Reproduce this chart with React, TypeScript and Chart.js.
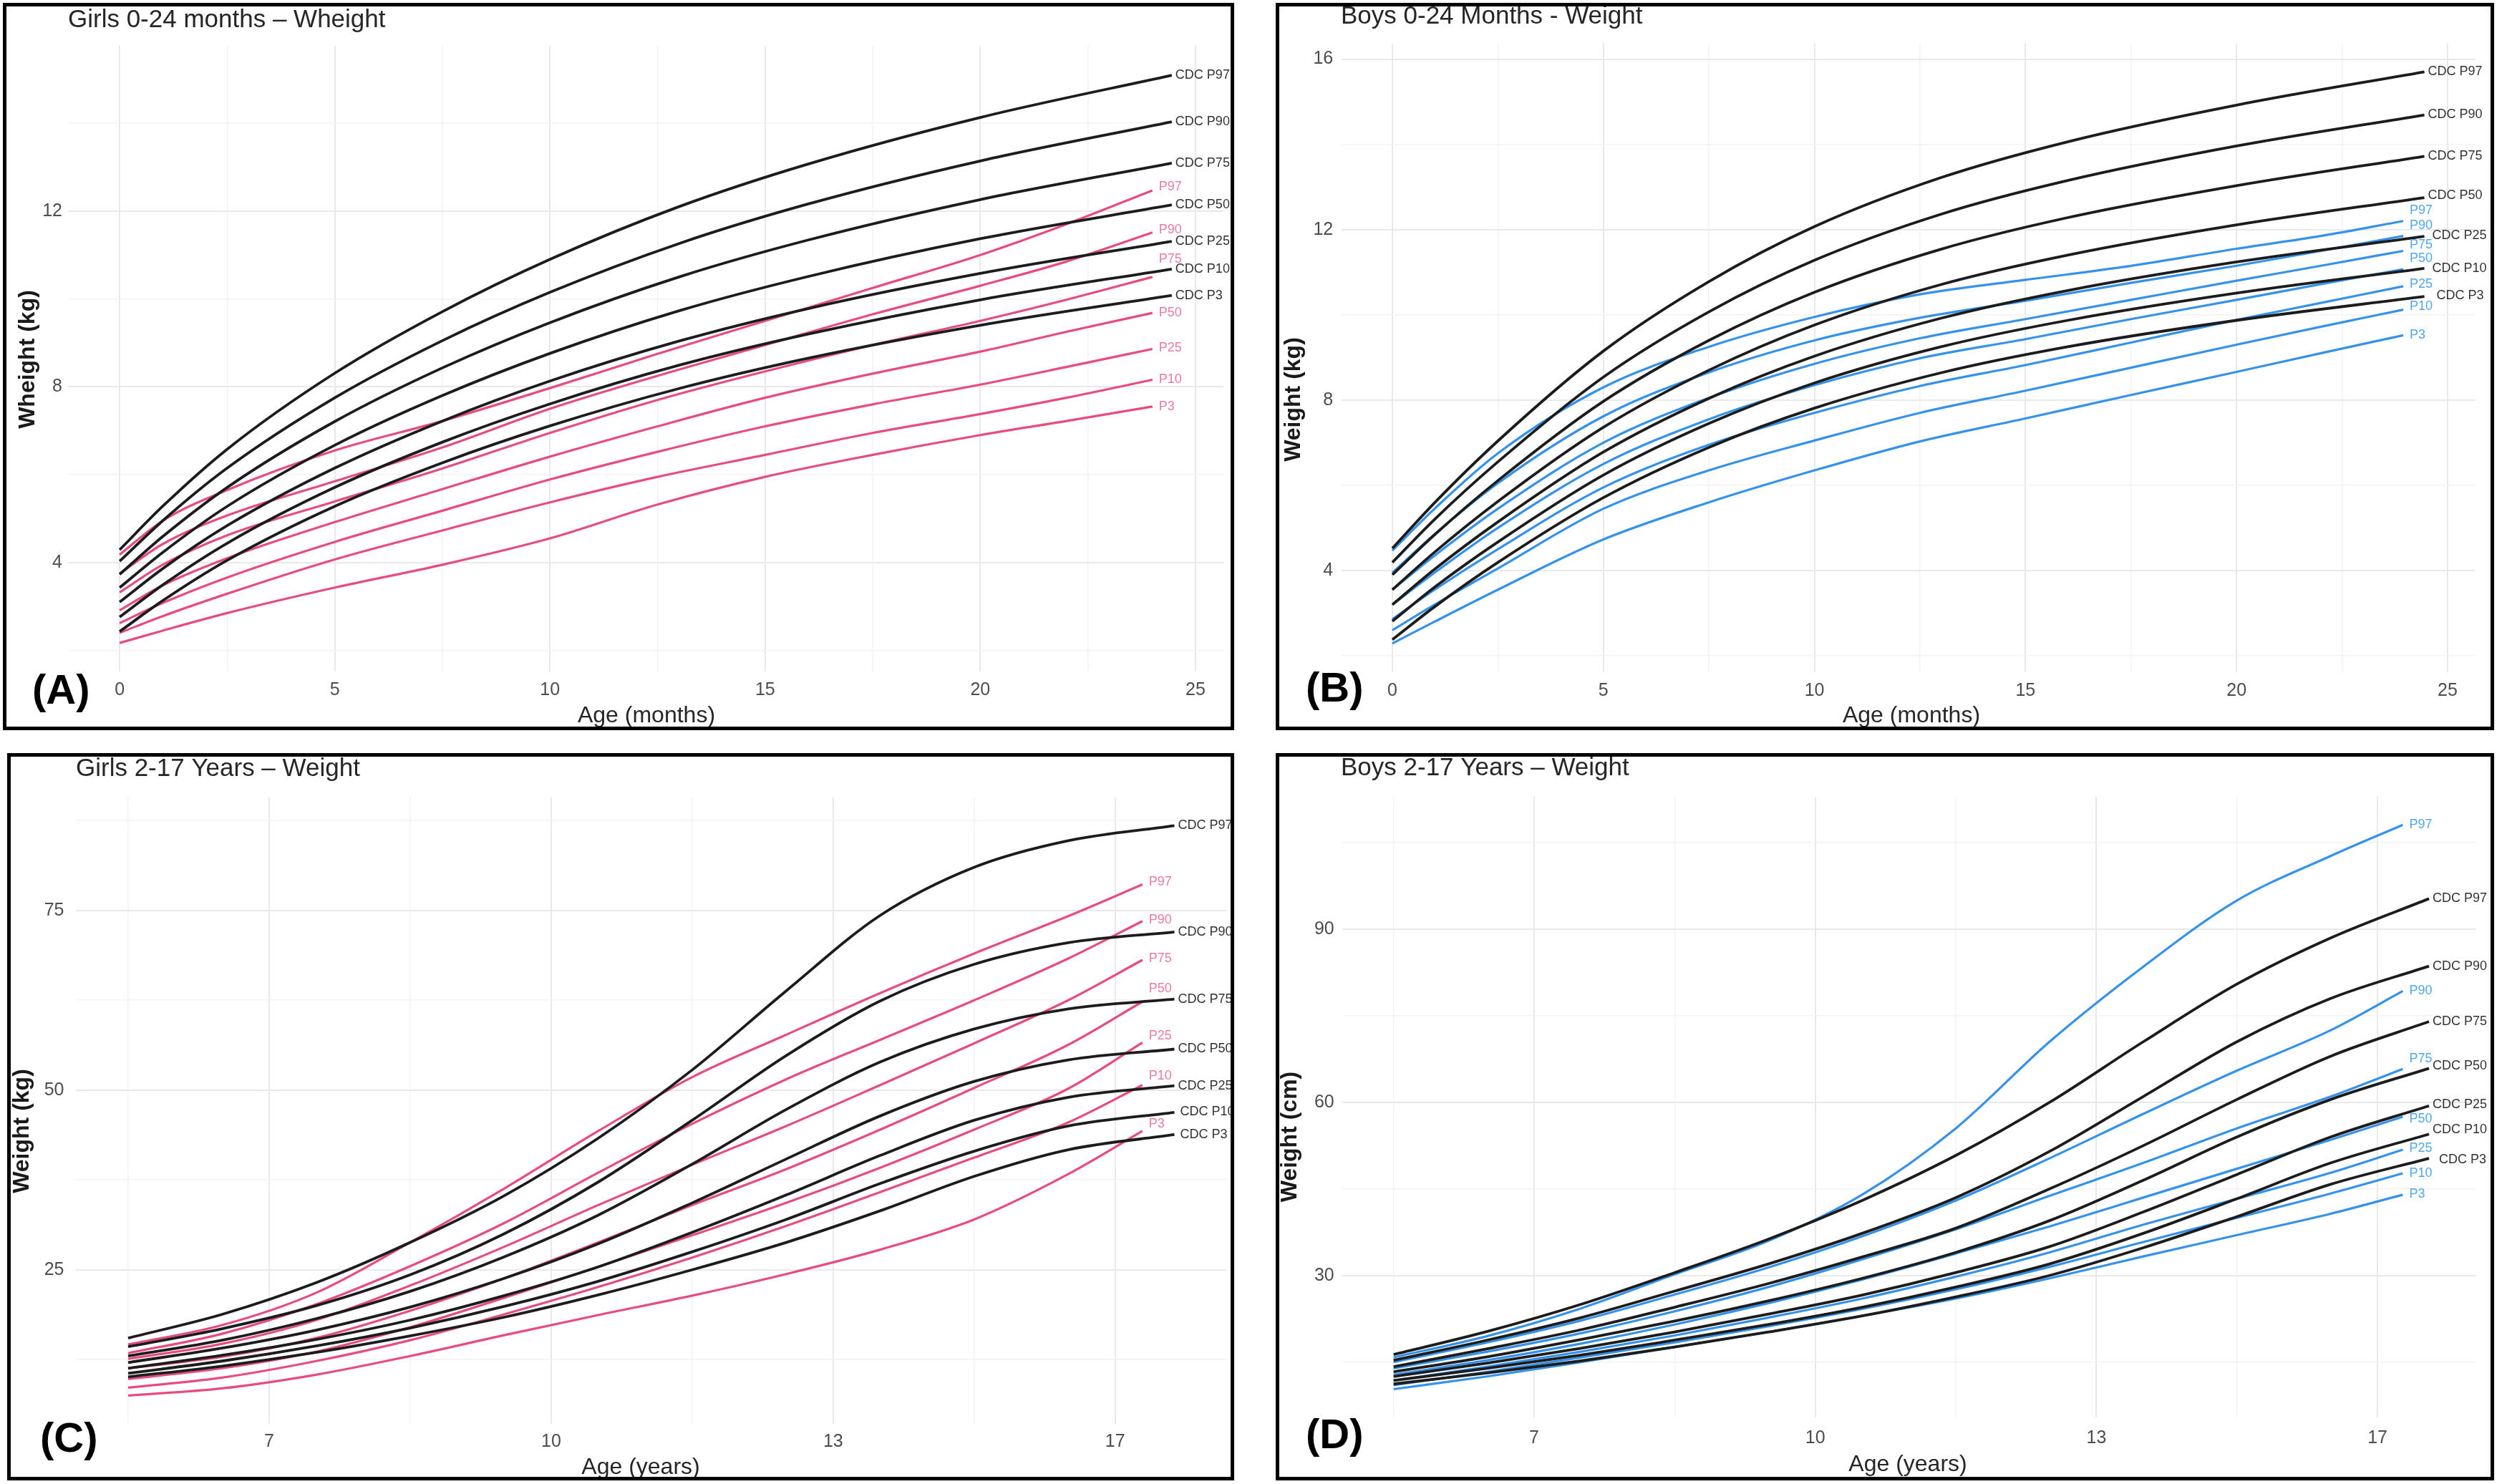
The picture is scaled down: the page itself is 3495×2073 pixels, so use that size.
import React, { useEffect, useRef } from 'react';
import { Chart, registerables } from 'chart.js';

Chart.register(...registerables);

const FONT = "'Liberation Sans', Arial, Helvetica, sans-serif";
const CDC_LINE = '#1c1c1c';
const CDC_TEXT = '#333333';
const PINK_LINE = '#e84c7f';
const PINK_TEXT = '#ee7aa0';
const BLUE_LINE = '#3592ec';
const BLUE_TEXT = '#52a6f2';
const GRID_MAJOR = '#e9e9e9';
const GRID_MINOR = '#f3f3f3';

const PERCENTILES = ['P97', 'P90', 'P75', 'P50', 'P25', 'P10', 'P3'];

// ---------- Girls 0-24 months (weight, kg) ----------
const girlsInfantCdcAge = [0, 1, 2.5, 5, 7.5, 10, 13, 16, 20, 24.45];
const girlsInfantCdcP97 = [4.29, 5.28, 6.58, 8.31, 9.71, 10.9, 12.1, 13.07, 14.13, 15.09];
const girlsInfantCdcP90 = [4.03, 4.95, 6.15, 7.75, 9.05, 10.15, 11.26, 12.16, 13.14, 14.03];
const girlsInfantCdcP75 = [3.73, 4.59, 5.71, 7.21, 8.43, 9.46, 10.5, 11.34, 12.26, 13.09];
const girlsInfantCdcP50 = [3.43, 4.23, 5.28, 6.67, 7.8, 8.76, 9.73, 10.51, 11.37, 12.14];
const girlsInfantCdcP25 = [3.1, 3.86, 4.84, 6.15, 7.22, 8.13, 9.04, 9.78, 10.58, 11.31];
const girlsInfantCdcP10 = [2.76, 3.49, 4.44, 5.71, 6.74, 7.61, 8.49, 9.2, 9.98, 10.68];
const girlsInfantCdcP3 = [2.43, 3.13, 4.05, 5.28, 6.27, 7.11, 7.96, 8.65, 9.4, 10.08];

const girlsInfantAge = [0, 1, 2.5, 5, 7.5, 10, 12.5, 15, 17.5, 20, 22, 24];
const girlsInfantP97 = [4.18, 4.95, 5.65, 6.55, 7.22, 7.97, 8.75, 9.5, 10.25, 11.0, 11.7, 12.47];
const girlsInfantP90 = [3.75, 4.42, 5.07, 5.85, 6.62, 7.5, 8.25, 8.95, 9.65, 10.3, 10.85, 11.51];
const girlsInfantP75 = [3.32, 3.95, 4.62, 5.39, 6.14, 6.95, 7.7, 8.35, 8.95, 9.5, 9.98, 10.5];
const girlsInfantP50 = [2.91, 3.48, 4.1, 4.92, 5.67, 6.41, 7.1, 7.75, 8.3, 8.8, 9.25, 9.68];
const girlsInfantP25 = [2.62, 3.08, 3.66, 4.47, 5.18, 5.89, 6.52, 7.1, 7.6, 8.05, 8.45, 8.86];
const girlsInfantP10 = [2.4, 2.78, 3.29, 4.07, 4.73, 5.37, 5.95, 6.45, 6.95, 7.38, 7.75, 8.16];
const girlsInfantP3 = [2.17, 2.45, 2.85, 3.43, 3.95, 4.55, 5.32, 5.95, 6.45, 6.9, 7.22, 7.55];

const girlsInfantCdcLabelY = [15.09, 14.03, 13.09, 12.14, 11.31, 10.68, 10.08];
const girlsInfantLabelY = [12.55, 11.57, 10.9, 9.68, 8.88, 8.16, 7.55];

// ---------- Boys 0-24 months (weight, kg) ----------
const boysInfantCdcAge = [0, 1, 2.5, 5, 7.5, 10, 13, 16, 20, 24.45];
const boysInfantCdcP97 = [4.52, 5.59, 7.04, 9.15, 10.78, 12.07, 13.22, 14.06, 14.92, 15.7];
const boysInfantCdcP90 = [4.19, 5.2, 6.55, 8.54, 10.07, 11.28, 12.36, 13.15, 13.96, 14.69];
const boysInfantCdcP75 = [3.9, 4.84, 6.11, 7.97, 9.4, 10.53, 11.54, 12.28, 13.03, 13.72];
const boysInfantCdcP50 = [3.55, 4.43, 5.62, 7.36, 8.7, 9.76, 10.71, 11.4, 12.11, 12.75];
const boysInfantCdcP25 = [3.2, 4.03, 5.14, 6.78, 8.04, 9.03, 9.92, 10.57, 11.24, 11.84];
const boysInfantCdcP10 = [2.81, 3.61, 4.67, 6.24, 7.45, 8.4, 9.25, 9.87, 10.51, 11.09];
const boysInfantCdcP3 = [2.38, 3.15, 4.19, 5.71, 6.89, 7.81, 8.64, 9.25, 9.87, 10.43];

const boysInfantAge = [0, 1, 2.5, 5, 7.5, 10, 12.5, 15, 17.5, 20, 22, 23.95];
const boysInfantP97 = [4.47, 5.45, 6.75, 8.3, 9.25, 9.95, 10.48, 10.82, 11.15, 11.55, 11.85, 12.2];
const boysInfantP90 = [3.95, 4.85, 6.05, 7.62, 8.65, 9.4, 9.93, 10.33, 10.75, 11.15, 11.5, 11.85];
const boysInfantP75 = [3.55, 4.35, 5.45, 7.0, 8.05, 8.85, 9.45, 9.9, 10.35, 10.8, 11.15, 11.5];
const boysInfantP50 = [3.2, 3.95, 5.0, 6.5, 7.55, 8.35, 8.98, 9.43, 9.9, 10.35, 10.72, 11.07];
const boysInfantP25 = [2.86, 3.55, 4.5, 5.95, 6.95, 7.7, 8.33, 8.82, 9.35, 9.88, 10.28, 10.67];
const boysInfantP10 = [2.6, 3.2, 4.05, 5.45, 6.35, 7.05, 7.7, 8.22, 8.76, 9.3, 9.72, 10.12];
const boysInfantP3 = [2.29, 2.8, 3.55, 4.73, 5.6, 6.35, 7.03, 7.57, 8.12, 8.66, 9.1, 9.52];

const boysInfantCdcLabelY = [15.7, 14.7, 13.72, 12.8, 11.86, 11.09, 10.45];
const boysInfantLabelY = [12.45, 12.1, 11.64, 11.32, 10.72, 10.2, 9.53];

// ---------- Girls 2-17 years (weight, kg) ----------
const girlsChildCdcAge = [5.5, 6.5, 7.5, 8.5, 9.5, 10.5, 11.5, 12.5, 13.5, 14.5, 15.5, 16.63];
const girlsChildCdcP97 = [15.5, 18.8, 23.2, 28.8, 35.3, 43.3, 52.8, 63.8, 74.3, 81.0, 84.7, 86.8];
const girlsChildCdcP90 = [14.3, 16.8, 20.0, 24.3, 30.0, 37.2, 45.8, 54.8, 62.4, 67.5, 70.5, 72.0];
const girlsChildCdcP75 = [13.0, 15.2, 18.2, 22.0, 26.8, 32.6, 39.7, 47.3, 53.9, 58.5, 61.3, 62.65];
const girlsChildCdcP50 = [12.1, 14.1, 16.6, 19.8, 23.8, 28.6, 34.3, 40.4, 46.4, 51.2, 54.2, 55.7];
const girlsChildCdcP25 = [11.3, 13.1, 15.3, 18.0, 21.4, 25.4, 30.2, 35.4, 40.9, 45.8, 49.0, 50.6];
const girlsChildCdcP10 = [10.6, 12.3, 14.4, 16.9, 19.9, 23.4, 27.5, 32.0, 37.0, 41.5, 45.0, 46.9];
const girlsChildCdcP3 = [10.1, 11.6, 13.5, 15.8, 18.4, 21.5, 25.0, 28.8, 33.2, 38.0, 41.7, 43.8];

const girlsChildAge = [5.5, 6.5, 7.5, 8.5, 9.5, 10.5, 11.5, 12.5, 13.5, 14.5, 15.5, 16.29];
const girlsChildP97 = [14.6, 17.3, 21.8, 28.8, 36.3, 44.3, 51.8, 57.7, 63.5, 69.0, 74.2, 78.6];
const girlsChildP90 = [13.4, 16.1, 20.2, 25.5, 31.5, 38.5, 45.3, 51.5, 57.0, 62.5, 68.3, 73.5];
const girlsChildP75 = [12.6, 14.7, 18.0, 22.8, 28.2, 34.0, 39.6, 45.0, 50.7, 56.5, 62.5, 68.1];
const girlsChildP50 = [11.3, 12.9, 15.5, 19.3, 23.8, 28.8, 34.0, 39.0, 44.5, 50.3, 56.3, 62.3];
const girlsChildP25 = [9.8, 11.3, 13.6, 17.0, 21.1, 25.4, 29.8, 34.3, 39.2, 44.5, 50.2, 56.6];
const girlsChildP10 = [8.6, 10.0, 12.3, 15.2, 18.8, 22.6, 26.7, 31.1, 35.8, 40.6, 45.5, 50.7];
const girlsChildP3 = [7.5, 8.5, 10.4, 13.0, 15.9, 18.7, 21.4, 24.4, 27.8, 32.0, 38.3, 44.3];

const girlsChildCdcLabelY = [86.8, 72.0, 62.65, 55.7, 50.6, 47.0, 43.8];
const girlsChildLabelY = [79.0, 73.7, 68.3, 64.1, 57.5, 52.0, 45.3];

// ---------- Boys 2-17 years (weight) ----------
const boysChildCdcAge = [5.5, 6.5, 7.5, 8.5, 9.5, 10.5, 11.5, 12.5, 13.5, 14.5, 15.5, 16.55];
const boysChildCdcP97 = [16.3, 20.3, 25.0, 30.5, 36.3, 43.0, 50.8, 60.0, 70.5, 80.5, 88.5, 95.3];
const boysChildCdcP90 = [15.3, 18.8, 22.7, 27.3, 32.0, 37.3, 43.5, 51.5, 61.0, 70.5, 78.0, 83.6];
const boysChildCdcP75 = [14.2, 17.3, 20.6, 24.5, 28.6, 33.2, 38.2, 45.0, 52.5, 60.5, 68.0, 74.0];
const boysChildCdcP50 = [13.3, 15.9, 18.9, 22.1, 25.6, 29.5, 34.0, 39.5, 46.5, 54.0, 60.5, 65.9];
const boysChildCdcP25 = [12.5, 14.8, 17.4, 20.2, 23.3, 26.6, 30.5, 35.0, 41.0, 47.5, 54.0, 59.4];
const boysChildCdcP10 = [11.8, 13.9, 16.2, 18.8, 21.5, 24.5, 28.0, 32.0, 37.3, 43.3, 49.5, 54.5];
const boysChildCdcP3 = [11.2, 13.1, 15.2, 17.6, 20.2, 23.0, 26.3, 30.0, 34.8, 40.2, 45.8, 50.3];

const boysChildAge = [5.5, 6.5, 7.5, 8.5, 9.5, 10.5, 11.5, 12.5, 13.5, 14.5, 15.5, 16.27];
const boysChildP97 = [15.8, 19.5, 24.3, 30.2, 36.0, 44.0, 55.5, 70.5, 83.5, 95.0, 102.7, 108.1];
const boysChildP90 = [15.0, 18.4, 22.2, 26.7, 31.4, 36.8, 43.0, 50.3, 58.0, 65.5, 72.5, 79.3];
const boysChildP75 = [13.9, 16.8, 20.0, 23.8, 28.0, 32.8, 38.0, 43.8, 49.5, 55.5, 61.0, 65.8];
const boysChildP50 = [12.8, 15.3, 18.2, 21.5, 25.2, 29.3, 33.8, 38.5, 43.5, 48.5, 53.5, 57.5];
const boysChildP25 = [11.8, 14.2, 16.8, 19.6, 22.7, 26.0, 29.8, 34.0, 38.8, 43.3, 47.8, 51.8];
const boysChildP10 = [11.0, 13.3, 15.8, 18.4, 21.2, 24.2, 27.6, 31.5, 35.8, 40.0, 44.2, 47.7];
const boysChildP3 = [10.3, 12.5, 15.0, 17.6, 20.2, 23.0, 26.0, 29.5, 33.3, 37.0, 40.7, 44.0];

const boysChildCdcLabelY = [95.3, 83.6, 74.0, 66.3, 59.6, 55.3, 50.1];
const boysChildLabelY = [108.1, 79.3, 67.6, 57.1, 52.0, 47.7, 44.1];

// ---------- axis ticks ----------
const infantAgeTicks = [0, 2.5, 5, 7.5, 10, 12.5, 15, 17.5, 20, 22.5, 25];
const infantAgeTickLabels = ['0', '', '5', '', '10', '', '15', '', '20', '', '25'];
const girlsInfantWeightTicks = [2, 4, 6, 8, 10, 12, 14];
const girlsInfantWeightTickLabels = ['', '4', '', '8', '', '12', ''];
const boysInfantWeightTicks = [2, 4, 6, 8, 10, 12, 14, 16];
const boysInfantWeightTickLabels = ['', '4', '', '8', '', '12', '', '16'];
const childAgeTicks = [5.5, 7, 8.5, 10, 11.5, 13, 14.5, 16];
const childAgeTickLabels = ['', '7', '', '10', '', '13', '', '17'];
const girlsChildWeightTicks = [12.5, 25, 37.5, 50, 62.5, 75, 87.5];
const girlsChildWeightTickLabels = ['', '25', '', '50', '', '75', ''];
const boysChildWeightTicks = [15, 30, 45, 60, 75, 90, 105];
const boysChildWeightTickLabels = ['', '30', '', '60', '', '90', ''];

type Curve = {
  name: string;
  x: number[];
  y: number[];
  labelY: number;
  labelDx: number;
  cdc: boolean;
};

function buildCurves(
  cdcAge: number[],
  cdc: number[][],
  cdcLabelY: number[],
  cdcDx: number[],
  age: number[],
  local: number[][],
  localLabelY: number[],
): Curve[] {
  const out: Curve[] = [];
  cdc.forEach((ys, i) =>
    out.push({ name: 'CDC ' + PERCENTILES[i], x: cdcAge, y: ys, labelY: cdcLabelY[i], labelDx: cdcDx[i], cdc: true }),
  );
  local.forEach((ys, i) =>
    out.push({ name: PERCENTILES[i], x: age, y: ys, labelY: localLabelY[i], labelDx: 9, cdc: false }),
  );
  return out;
}

type TextItem = { text: string; x: number; y: number };

type PanelSpec = {
  box: { left: number; top: number; width: number; height: number };
  plot: { left: number; top: number; right: number; bottom: number };
  xRange: [number, number];
  yRange: [number, number];
  xTicks: number[];
  xTickLabels: string[];
  yTicks: number[];
  yTickLabels: string[];
  xTickPad: number;
  yTickPad: number;
  lineColor: string;
  textColor: string;
  curves: Curve[];
  title: TextItem;
  tag: TextItem;
  xTitle: TextItem;
  yTitle: TextItem;
};

const panels: PanelSpec[] = [
  {
    box: { left: 4, top: 4, width: 1720, height: 1016 },
    plot: { left: 95, top: 64, right: 1709, bottom: 938 },
    xRange: [-1.2, 25.65],
    yRange: [1.52, 15.76],
    xTicks: infantAgeTicks,
    xTickLabels: infantAgeTickLabels,
    yTicks: girlsInfantWeightTicks,
    yTickLabels: girlsInfantWeightTickLabels,
    xTickPad: 11,
    yTickPad: 8,
    lineColor: PINK_LINE,
    textColor: PINK_TEXT,
    curves: buildCurves(
      girlsInfantCdcAge,
      [girlsInfantCdcP97, girlsInfantCdcP90, girlsInfantCdcP75, girlsInfantCdcP50, girlsInfantCdcP25, girlsInfantCdcP10, girlsInfantCdcP3],
      girlsInfantCdcLabelY,
      [5, 5, 5, 5, 5, 5, 5],
      girlsInfantAge,
      [girlsInfantP97, girlsInfantP90, girlsInfantP75, girlsInfantP50, girlsInfantP25, girlsInfantP10, girlsInfantP3],
      girlsInfantLabelY,
    ),
    title: { text: 'Girls 0-24 months \u2013 Wheight', x: 95, y: 28 },
    tag: { text: '(A)', x: 45, y: 967 },
    xTitle: { text: 'Age (months)', x: 903, y: 1000 },
    yTitle: { text: 'Wheight (kg)', x: 39, y: 502 },
  },
  {
    box: { left: 1782, top: 4, width: 1702, height: 1016 },
    plot: { left: 1874.2, top: 60.5, right: 3457.3, bottom: 938.7 },
    xRange: [-1.2, 25.65],
    yRange: [1.62, 16.37],
    xTicks: infantAgeTicks,
    xTickLabels: infantAgeTickLabels,
    yTicks: boysInfantWeightTicks,
    yTickLabels: boysInfantWeightTickLabels,
    xTickPad: 11,
    yTickPad: 12,
    lineColor: BLUE_LINE,
    textColor: BLUE_TEXT,
    curves: buildCurves(
      boysInfantCdcAge,
      [boysInfantCdcP97, boysInfantCdcP90, boysInfantCdcP75, boysInfantCdcP50, boysInfantCdcP25, boysInfantCdcP10, boysInfantCdcP3],
      boysInfantCdcLabelY,
      [5, 5, 5, 5, 11, 11, 17],
      boysInfantAge,
      [boysInfantP97, boysInfantP90, boysInfantP75, boysInfantP50, boysInfantP25, boysInfantP10, boysInfantP3],
      boysInfantLabelY,
    ),
    title: { text: 'Boys 0-24 Months - Weight', x: 1873, y: 23 },
    tag: { text: '(B)', x: 1824, y: 964 },
    xTitle: { text: 'Age (months)', x: 2670, y: 1000 },
    yTitle: { text: 'Weight (kg)', x: 1807, y: 558 },
  },
  {
    box: { left: 10, top: 1052, width: 1714, height: 1016 },
    plot: { left: 105.5, top: 1113.4, right: 1714, bottom: 1989.3 },
    xRange: [4.94, 17.19],
    yRange: [3.53, 90.77],
    xTicks: childAgeTicks,
    xTickLabels: childAgeTickLabels,
    yTicks: girlsChildWeightTicks,
    yTickLabels: girlsChildWeightTickLabels,
    xTickPad: 10,
    yTickPad: 16,
    lineColor: PINK_LINE,
    textColor: PINK_TEXT,
    curves: buildCurves(
      girlsChildCdcAge,
      [girlsChildCdcP97, girlsChildCdcP90, girlsChildCdcP75, girlsChildCdcP50, girlsChildCdcP25, girlsChildCdcP10, girlsChildCdcP3],
      girlsChildCdcLabelY,
      [5, 5, 5, 5, 5, 8, 8],
      girlsChildAge,
      [girlsChildP97, girlsChildP90, girlsChildP75, girlsChildP50, girlsChildP25, girlsChildP10, girlsChildP3],
      girlsChildLabelY,
    ),
    title: { text: 'Girls 2-17 Years \u2013 Weight', x: 106, y: 1074 },
    tag: { text: '(C)', x: 56, y: 2012 },
    xTitle: { text: 'Age (years)', x: 895, y: 2050 },
    yTitle: { text: 'Weight (kg)', x: 31, y: 1580 },
  },
  {
    box: { left: 1782, top: 1052, width: 1702, height: 1016 },
    plot: { left: 1874.7, top: 1112.7, right: 3458.5, bottom: 1980 },
    xRange: [4.95, 17.05],
    yRange: [5.4, 113],
    xTicks: childAgeTicks,
    xTickLabels: childAgeTickLabels,
    yTicks: boysChildWeightTicks,
    yTickLabels: boysChildWeightTickLabels,
    xTickPad: 14,
    yTickPad: 11,
    lineColor: BLUE_LINE,
    textColor: BLUE_TEXT,
    curves: buildCurves(
      boysChildCdcAge,
      [boysChildCdcP97, boysChildCdcP90, boysChildCdcP75, boysChildCdcP50, boysChildCdcP25, boysChildCdcP10, boysChildCdcP3],
      boysChildCdcLabelY,
      [5, 5, 5, 5, 5, 5, 14],
      boysChildAge,
      [boysChildP97, boysChildP90, boysChildP75, boysChildP50, boysChildP25, boysChildP10, boysChildP3],
      boysChildLabelY,
    ),
    title: { text: 'Boys 2-17 Years \u2013 Weight', x: 1873, y: 1073 },
    tag: { text: '(D)', x: 1824, y: 2007 },
    xTitle: { text: 'Age (years)', x: 2665, y: 2046 },
    yTitle: { text: 'Weight (cm)', x: 1802, y: 1588 },
  },
];

const Y_AXIS_W = 70;
const X_AXIS_H = 70;
const TICK_FONT_SIZE = 25;

function GrowthPanel({ spec }: { spec: PanelSpec }) {
  const ref = useRef<HTMLCanvasElement | null>(null);

  useEffect(() => {
    const canvas = ref.current;
    if (!canvas) return;
    const { box, plot } = spec;
    const ox = box.left;
    const oy = box.top;

    const xLabelOf = new Map(spec.xTicks.map((v, i) => [v, spec.xTickLabels[i]]));
    const yLabelOf = new Map(spec.yTicks.map((v, i) => [v, spec.yTickLabels[i]]));
    const isMajorX = (v: number) => (xLabelOf.get(v) ?? '') !== '';
    const isMajorY = (v: number) => (yLabelOf.get(v) ?? '') !== '';

    const textPlugin = {
      id: 'panelText',
      afterDatasetsDraw(chart: any) {
        const ctx = chart.ctx as CanvasRenderingContext2D;
        const xs = chart.scales.x;
        const ys = chart.scales.y;
        ctx.save();
        ctx.textAlign = 'left';
        ctx.textBaseline = 'middle';
        ctx.font = `18px ${FONT}`;
        spec.curves.forEach((c) => {
          const px = xs.getPixelForValue(c.x[c.x.length - 1]) + c.labelDx;
          const py = ys.getPixelForValue(c.labelY);
          ctx.fillStyle = c.cdc ? CDC_TEXT : spec.textColor;
          ctx.fillText(c.name, px, py);
        });
        ctx.restore();
      },
      afterDraw(chart: any) {
        const ctx = chart.ctx as CanvasRenderingContext2D;
        ctx.save();
        ctx.textBaseline = 'middle';

        ctx.fillStyle = '#262626';
        ctx.font = `35px ${FONT}`;
        ctx.textAlign = 'left';
        ctx.fillText(spec.title.text, spec.title.x - ox, spec.title.y - oy);

        ctx.fillStyle = '#000000';
        ctx.font = `bold 58px ${FONT}`;
        ctx.fillText(spec.tag.text, spec.tag.x - ox, spec.tag.y - oy);

        ctx.fillStyle = '#262626';
        ctx.font = `32px ${FONT}`;
        ctx.textAlign = 'center';
        ctx.fillText(spec.xTitle.text, spec.xTitle.x - ox, spec.xTitle.y - oy);

        ctx.translate(spec.yTitle.x - ox, spec.yTitle.y - oy);
        ctx.rotate(-Math.PI / 2);
        ctx.font = `bold 32px ${FONT}`;
        ctx.fillStyle = '#1a1a1a';
        ctx.fillText(spec.yTitle.text, 0, 0);
        ctx.restore();
      },
    };

    const datasets = spec.curves.map((c) => ({
      label: c.name,
      data: c.x.map((x, i) => ({ x, y: c.y[i] })),
      borderColor: c.cdc ? CDC_LINE : spec.lineColor,
      borderWidth: c.cdc ? 3.8 : 3.2,
      pointRadius: 0,
      fill: false,
      cubicInterpolationMode: 'monotone' as const,
    }));

    const chart = new Chart(canvas, {
      type: 'line',
      data: { datasets },
      options: {
        responsive: false,
        animation: false,
        devicePixelRatio: 1,
        layout: {
          padding: {
            left: plot.left - ox - Y_AXIS_W,
            top: plot.top - oy,
            right: ox + box.width - plot.right,
            bottom: oy + box.height - plot.bottom - X_AXIS_H,
          },
        },
        plugins: { legend: { display: false }, tooltip: { enabled: false } },
        scales: {
          x: {
            type: 'linear',
            min: spec.xRange[0],
            max: spec.xRange[1],
            afterFit: (s: any) => {
              s.height = X_AXIS_H;
            },
            afterBuildTicks: (s: any) => {
              s.ticks = spec.xTicks.map((v) => ({ value: v }));
            },
            ticks: {
              autoSkip: false,
              maxRotation: 0,
              padding: spec.xTickPad,
              color: '#4d4d4d',
              font: { family: FONT, size: TICK_FONT_SIZE },
              callback: (v: any) => xLabelOf.get(Number(v)) ?? '',
            },
            grid: {
              drawTicks: false,
              color: (c: any) => (isMajorX(c.tick?.value) ? GRID_MAJOR : GRID_MINOR),
              lineWidth: (c: any) => (isMajorX(c.tick?.value) ? 2 : 1.5),
            },
            border: { display: false },
          },
          y: {
            type: 'linear',
            min: spec.yRange[0],
            max: spec.yRange[1],
            afterFit: (s: any) => {
              s.width = Y_AXIS_W;
            },
            afterBuildTicks: (s: any) => {
              s.ticks = spec.yTicks.map((v) => ({ value: v }));
            },
            ticks: {
              autoSkip: false,
              padding: spec.yTickPad,
              color: '#4d4d4d',
              font: { family: FONT, size: TICK_FONT_SIZE },
              callback: (v: any) => yLabelOf.get(Number(v)) ?? '',
            },
            grid: {
              drawTicks: false,
              color: (c: any) => (isMajorY(c.tick?.value) ? GRID_MAJOR : GRID_MINOR),
              lineWidth: (c: any) => (isMajorY(c.tick?.value) ? 2 : 1.5),
            },
            border: { display: false },
          },
        },
      },
      plugins: [textPlugin],
    });

    return () => chart.destroy();
  }, [spec]);

  const { box } = spec;
  return (
    <>
      <canvas
        ref={ref}
        width={box.width}
        height={box.height}
        style={{ position: 'absolute', left: box.left, top: box.top, width: box.width, height: box.height }}
      />
      <div
        style={{
          position: 'absolute',
          left: box.left,
          top: box.top,
          width: box.width,
          height: box.height,
          border: '5px solid #000',
          boxSizing: 'border-box',
          pointerEvents: 'none',
        }}
      />
    </>
  );
}

export default function App() {
  return (
    <div
      style={{
        position: 'absolute',
        left: 0,
        top: 0,
        width: 3495,
        height: 2073,
        background: '#ffffff',
        overflow: 'hidden',
      }}
    >
      {panels.map((p, i) => (
        <GrowthPanel key={i} spec={p} />
      ))}
    </div>
  );
}
